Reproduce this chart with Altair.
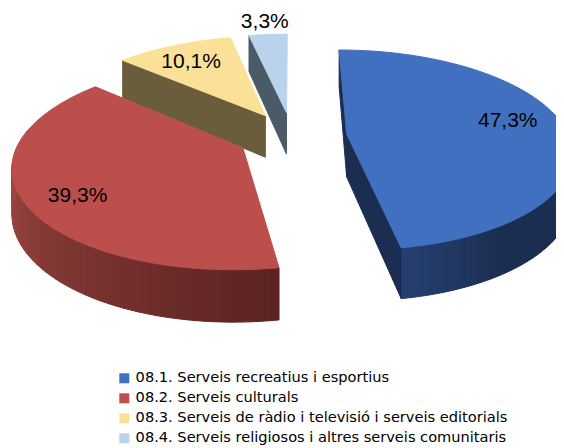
import math
import altair as alt
import pandas as pd

categories = [
    "08.1. Serveis recreatius i esportius",
    "08.2. Serveis culturals",
    "08.3. Serveis de ràdio i televisió i serveis editorials",
    "08.4. Serveis religiosos i altres serveis comunitaris",
]
shares = [47.3, 39.3, 10.1, 3.3]
labels = ["47,3%", "39,3%", "10,1%", "3,3%"]
top_colors = ["#4270C0", "#BC4F4C", "#FBE198", "#B9D3EC"]
edge_colors = ["#1B2E52", "#5A2321", "#6A5D3C", "#4A5A66"]

# Tilted-disc projection of an exploded pie
VX, VY, A, B, K, EXPLODE, DEPTH = 292, 136, 222, 98, 0.16, 0.248, 43
W, H = 548, 440
PAGE = 8


def project(wx, wy, drop=False):
    f = 1 / (1 + K * wy)
    sx = VX + A * wx * f
    sy = VY - B * wy * f + (DEPTH * f if drop else 0)
    return sx, sy


def mix(c1, c2, u):
    a = [int(c1[i:i + 2], 16) for i in (1, 3, 5)]
    b = [int(c2[i:i + 2], 16) for i in (1, 3, 5)]
    return "#%02x%02x%02x" % tuple(round(p + (q - p) * u) for p, q in zip(a, b))


spans, start = [], 0.0
for s in shares:
    spans.append((start, start + s * 3.6))
    start += s * 3.6


def centre(i):
    m = math.radians(sum(spans[i]) / 2)
    return EXPLODE * math.sin(m), EXPLODE * math.cos(m)


def rim(i, t):
    cx, cy = centre(i)
    r = math.radians(t)
    return cx + math.sin(r), cy + math.cos(r)


rows = []
poly = [0]


def add(points, colour):
    for n, (x, y) in enumerate(points + points[:1]):
        rows.append({"poly": poly[0], "n": n, "x": x + 0.0, "y": y + 0.0, "c": colour})
    poly[0] += 1


def rim_colour(i, t):
    a, b = spans[i]
    if i == 1:
        u = min(1.0, (t - a) / (275 - a))
        return mix("#5A2321", "#A54A46", u)
    if i == 0:
        return mix("#1B2E52", "#263F70", max(0.0, (t - (b - 25)) / 25))
    return edge_colors[i]


def slice_polys(i):
    a, b = spans[i]
    c = centre(i)
    steps = max(4, int((b - a) / 2))
    ts = [a + (b - a) * j / steps for j in range(steps + 1)]
    # rim wall, front-facing part only
    for t0, t1 in zip(ts[:-1], ts[1:]):
        if t1 < 80 or t0 > 280:
            continue
        p0, p1 = rim(i, t0), rim(i, t1)
        add([project(*p0), project(*p1), project(*p1, True), project(*p0, True)],
            rim_colour(i, (t0 + t1) / 2))
    # radial walls
    for t in (a, b):
        p = rim(i, t)
        if i == 0 or (i in (2, 3) and t == a):
            add([project(*c), project(*p), project(*p, True), project(*c, True)], edge_colors[i])
    # top face
    add([project(*c)] + [project(*rim(i, t)) for t in ts], top_colors[i])


for i in (3, 2, 0, 1):
    slice_polys(i)

df = pd.DataFrame(rows)
x_scale = alt.Scale(domain=[PAGE, PAGE + W], nice=False, zero=False)
y_scale = alt.Scale(domain=[PAGE + H, PAGE], nice=False, zero=False)

faces = alt.Chart(df).mark_line(strokeWidth=1, clip=True, interpolate="linear").encode(
    x=alt.X("x:Q", scale=x_scale, axis=None),
    y=alt.Y("y:Q", scale=y_scale, axis=None),
    detail="poly:Q",
    order="n:Q",
    fill=alt.Fill("c:N", scale=None),
    stroke=alt.Stroke("c:N", scale=None),
)

# label spots: bearing (deg) and radius of each label within its slice
label_bearing = [80, 236.6, 328.6, 354]
label_radius = [0.76, 0.794, 0.754, 1.196]
lab_rows = []
for i, text in enumerate(labels):
    cx, cy = centre(i)
    r = math.radians(label_bearing[i])
    sx, sy = project(cx + label_radius[i] * math.sin(r), cy + label_radius[i] * math.cos(r))
    lab_rows.append({"x": sx, "y": sy, "t": text})

texts = alt.Chart(pd.DataFrame(lab_rows)).mark_text(
    font="Liberation Sans", fontSize=21, color="#000000", align="center", baseline="middle"
).encode(
    x=alt.X("x:Q", scale=x_scale, axis=None),
    y=alt.Y("y:Q", scale=y_scale, axis=None),
    text="t:N",
)

legend_df = pd.DataFrame({"cat": categories})
legend_layer = alt.Chart(legend_df).mark_point(filled=True, shape="square", opacity=0).encode(
    x=alt.value(0),
    y=alt.value(0),
    color=alt.Color(
        "cat:N",
        scale=alt.Scale(domain=categories, range=top_colors),
        legend=alt.Legend(
            title=None,
            orient="none",
            legendX=109,
            legendY=363,
            symbolType="square",
            symbolSize=100,
            symbolOpacity=1,
            symbolStrokeWidth=0,
            labelFont="DejaVu Sans",
            labelFontSize=14.6,
            labelColor="#000000",
            labelLimit=460,
            labelOffset=4,
            rowPadding=5,
            padding=0,
        ),
    ),
)

chart = alt.layer(faces, texts, legend_layer).properties(
    width=W,
    height=H,
    padding=0,
    autosize=alt.AutoSizeParams(type="none"),
).configure_view(stroke=None)

chart.save("out.html", embed_options={"renderer": "svg", "actions": False})
